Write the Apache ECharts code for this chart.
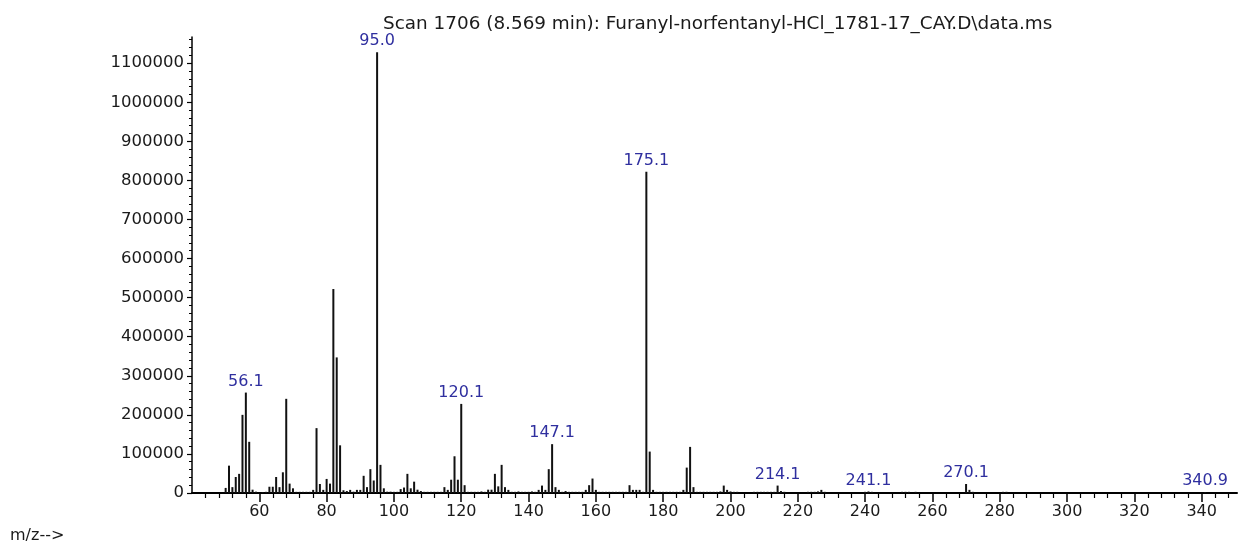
<!DOCTYPE html>
<html><head><meta charset="utf-8">
<script src="https://cdn.jsdelivr.net/npm/echarts@6/dist/echarts.min.js"></script>
<style>html,body{margin:0;padding:0;background:#fff}#c{width:1239px;height:548px}</style>
</head><body><div id="c"></div>
<script>
const titleText = 'Scan 1706 (8.569 min): Furanyl-norfentanyl-HCl_1781-17_CAY.D\\data.ms';
const xAxisName = 'm/z-->';

const mz = [
  50,51,52,53,54,55,56,57,58,59,61,62,63,64,65,66,67,68,69,70,
  71,72,73,74,75,76,77,78,79,80,81,82,83,84,85,86,87,88,89,90,
  91,92,93,94,95,96,97,98,99,100,101,102,103,104,105,106,107,108,109,110,
  111,112,113,114,115,116,117,118,119,120,121,122,123,124,125,126,127,128,129,130,
  131,132,133,134,135,136,137,138,139,140,141,142,143,144,145,146,147,148,149,150,
  151,152,153,154,155,156,157,158,159,160,161,162,163,164,165,166,167,168,169,170,
  171,172,173,174,175,176,177,178,179,180,181,182,183,184,185,186,187,188,189,190,
  191,192,193,194,195,196,197,198,199,200,201,202,207,208,209,210,211,212,213,214,
  215,216,223,224,225,226,227,228,240,241,242,251,252,253,255,270,271,272,281,282,
  341
];
const abundance = [
  13000,70000,15000,41000,49000,200000,257000,131000,8500,3400,2500,3000,16000,16000,41000,15000,53000,241000,24000,12000,
  3000,3000,3000,3000,3000,8000,166000,23000,8000,36000,24000,522000,347000,122000,7000,5000,8000,3400,8000,8000,
  44000,15000,61000,32000,1128000,72000,12000,3400,3400,3000,3000,10000,14000,49000,12000,29000,8500,5000,3000,3000,
  3000,3000,3000,3000,15000,8000,34000,94000,34000,228000,20000,3000,3000,3000,3000,4000,3000,8500,8500,49000,
  17000,72000,15000,8000,3000,3000,4000,3000,3000,3000,4000,3000,8000,19000,8000,61000,125000,15000,8000,3000,
  5000,3000,3000,3000,3000,3000,8000,20000,37000,8000,3000,3000,3000,3000,3000,3000,3000,3000,3000,20000,
  8000,8000,8000,3000,822000,106000,8000,3000,3000,3000,3000,3000,3000,3000,3000,8000,65000,118000,15000,3000,
  3000,3000,3000,3000,3000,3000,4000,19000,8000,4000,3000,3000,3000,3000,3000,3000,3000,3000,3000,19000,
  5000,3000,3000,3000,3000,4000,8000,3000,3000,4000,3000,3000,3000,3000,3000,23000,8000,3000,3000,3000,
  2000
];
const labelMz = [56,95,120,147,175,214,241,270,341];
const labelText = ['56.1','95.0','120.1','147.1','175.1','214.1','241.1','270.1','340.9'];
const xTicks = [60,80,100,120,140,160,180,200,220,240,260,280,300,320,340];
const yTicks = [0,100000,200000,300000,400000,500000,600000,700000,800000,900000,1000000,1100000];

const FONT = 'DejaVu Sans';
const data = mz.map((m, i) => {
  const k = labelMz.indexOf(m);
  const item = { value: [m, abundance[i]] };
  if (k >= 0) item.label = { show: true, formatter: labelText[k] };
  return item;
});

const chart = echarts.init(document.getElementById('c'), null, { renderer: 'canvas' });
chart.setOption({
  animation: false,
  backgroundColor: '#ffffff',
  title: {
    text: titleText, left: 378, top: 10,
    textStyle: { fontFamily: FONT, fontSize: 18.4, fontWeight: 'normal', color: '#1a1a1a' }
  },
  graphic: [{
    type: 'text', left: 10, top: 528,
    style: { text: xAxisName, font: '16px "DejaVu Sans"', fill: '#1a1a1a' }
  }],
  grid: { left: 192, right: 2, top: 37, bottom: 55, containLabel: false },
  xAxis: {
    type: 'value', min: 40, max: 350.5, interval: 20,
    axisLine: { show: true, onZero: false, lineStyle: { color: '#000', width: 2 } },
    axisTick: { show: true, length: 9, customValues: xTicks, lineStyle: { color: '#000', width: 1.5 } },
    minorTick: { show: true, splitNumber: 5, length: 5, lineStyle: { color: '#000', width: 1.2 } },
    axisLabel: { customValues: xTicks, margin: 11, fontFamily: FONT, fontSize: 16, color: '#1a1a1a',
      formatter: v => String(v) },
    splitLine: { show: false }, minorSplitLine: { show: false }
  },
  yAxis: {
    type: 'value', min: 0, max: 1167000, interval: 100000,
    axisLine: { show: true, lineStyle: { color: '#000', width: 1.5 } },
    axisTick: { show: true, length: 5, customValues: yTicks, lineStyle: { color: '#000', width: 1.2 } },
    minorTick: { show: true, splitNumber: 5, length: 3, lineStyle: { color: '#000', width: 1 } },
    axisLabel: { customValues: yTicks, margin: 8, fontFamily: FONT, fontSize: 16.5, color: '#1a1a1a',
      formatter: v => String(v) },
    splitLine: { show: false }, minorSplitLine: { show: false }
  },
  series: [{
    type: 'bar', barWidth: 2, data: data,
    itemStyle: { color: '#111' },
    label: { show: false, position: 'top', distance: 3, fontFamily: FONT, fontSize: 16, color: '#2f2f9f' }
  }]
});
</script></body></html>
